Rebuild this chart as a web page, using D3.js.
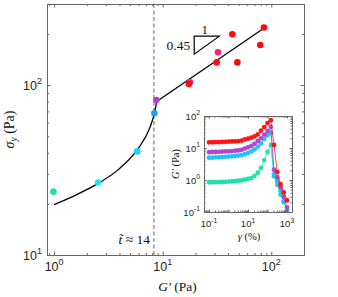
<!DOCTYPE html>
<html>
<head>
<meta charset="utf-8">
<script src="https://cdn.jsdelivr.net/npm/d3@7"></script>
<style>
    body { margin: 0; background: #fff; }
    svg { display: block; }
    .axis .domain { stroke: #666; stroke-width: 1; }
    .axis .tick line { stroke: #666; stroke-width: 1; }
    .ticklab { font-family: "Liberation Sans", Arial, sans-serif; fill: #262626; }
    .tex { font-family: "Liberation Serif", "DejaVu Serif", serif; fill: #111; }
</style>
</head>
<body>
<svg id="chart" width="338" height="297"></svg>
<script>
// main panel: yield stress against storage modulus
const modG = [0.985, 2.54, 5.83, 8.38, 8.74, 17.8, 17.4, 31.4, 32.3, 43.8, 48.7, 79.1, 85.6];
const yieldStress = [23.6, 26.7, 40.7, 68.2, 81.7, 104, 101.4, 136, 156, 199, 136, 172, 218];
const pointColors = ['#20dcaa', '#25e3ee', '#1fd0f5', '#1f9ff2', '#b13fc7', '#ff1f6a', '#ff0a0a',
                     '#ff0a0a', '#ff1f6a', '#ff0a0a', '#ff0a0a', '#ff0a0a', '#ff0a0a'];

// fitted curve: curved branch below the crossover, power law above
const fitG = [1.0, 1.6, 2.5, 3.9, 5.9, 7.6, 8.38, 8.8];
const fitS = [19.8, 22.6, 26.2, 31.8, 42.1, 56, 68.2, 80];
const lawG = [8.8, 85.3];
const lawS = [80, 216];

const tCross = 8.3;
const triG = [19.5, 33.2];
const triS = [152, 194];

const mainXTicks = [1, 10, 100];
const mainYTicks = [10, 100];

// inset: strain sweeps
const gamma = [0.1, 0.147, 0.215, 0.316, 0.464, 0.681, 1, 1.47, 2.15, 3.16, 4.64, 6.81,
               10, 14.7, 21.5, 31.6, 46.4, 68.1, 100, 147, 215, 316, 464, 681, 1000];
const sweepGreen = [0.85, 0.85, 0.86, 0.86, 0.87, 0.88, 0.89, 0.9, 0.92, 0.95, 0.98, 1.02,
                    1.08, 1.15, 1.35, 1.7, 2.4, 4.2, 7.5, 12.5, 1.3, 0.7, 0.35, 0.2, 0.12];
const sweepCyan = [5.0, 5.0, 5.1, 5.1, 5.2, 5.3, 5.4, 5.5, 5.6, 5.8, 6.0, 6.4,
                   7.0, 7.8, 9.0, 11, 14, 19, 25, 30, 1.5, 0.9, 0.45, 0.22, 0.11];
const sweepPurple = [7.4, 7.5, 7.5, 7.6, 7.7, 7.8, 7.9, 8.0, 8.2, 8.4, 8.8, 9.6,
                     10.5, 11.6, 13.5, 16.5, 20, 26, 34, 46, 2.1, 1.2, 0.6, 0.3, 0.14];
const sweepRed = [15, 15.1, 15.2, 15.3, 15.5, 15.6, 15.8, 16, 16.2, 16.5, 17, 18.5,
                  19.5, 21, 23, 26.5, 35, 45, 60, 74, 12.5, 1.8, 0.74, 0.41, 0.23];
const sweepNames = ['green', 'cyan', 'purple', 'red'];
const sweepColors = ['#1ee0ac', '#1ec3f7', '#b048d2', '#ff1414'];
const sweeps = [sweepGreen, sweepCyan, sweepPurple, sweepRed];

const insetXTicks = [0.1, 1, 10, 100, 1000];
const insetXLabels = [0.1, 10, 1000];
const insetYTicks = [0.1, 1, 10, 100];

const svg = d3.select("#chart");

const x = d3.scaleLog().domain([0.86, 200]).range([47, 304]);
const y = d3.scaleLog().domain([10, 300]).range([255, 4]);

function minorTicks(lo, hi) {
    const out = [];
    for (let p = Math.floor(Math.log10(lo)); p <= Math.ceil(Math.log10(hi)); p++) {
        for (let k = 2; k <= 9; k++) {
            const v = k * Math.pow(10, p);
            if (v > lo && v < hi) out.push(v);
        }
    }
    return out;
}

function powLabel(g, px, py, exp, size, anchor) {
    const t = g.append("text").attr("class", "ticklab")
        .attr("x", px).attr("y", py)
        .attr("text-anchor", anchor)
        .style("font-size", size + "px");
    t.append("tspan").text("10");
    t.append("tspan").attr("dy", -size * 0.45).style("font-size", (size * 0.72) + "px").text(exp);
}

function drawFrame(g, xs, ys, xMajor, yMajor, major, minor) {
    const [x0, x1] = xs.range();
    const [y0, y1] = ys.range();
    const xMin = minorTicks(...xs.domain());
    const yMin = minorTicks(...ys.domain());
    const sets = [
        [d3.axisBottom, xs, `translate(0,${y0})`],
        [d3.axisTop, xs, `translate(0,${y1})`],
        [d3.axisLeft, ys, `translate(${x0},0)`],
        [d3.axisRight, ys, `translate(${x1},0)`]
    ];
    sets.forEach(([fn, sc, tr], i) => {
        const isX = i < 2;
        g.append("g").attr("class", "axis").attr("transform", tr)
            .call(fn(sc).tickValues(isX ? xMin : yMin).tickSize(-minor).tickSizeOuter(0).tickFormat(""));
        g.append("g").attr("class", "axis").attr("transform", tr)
            .call(fn(sc).tickValues(isX ? xMajor : yMajor).tickSize(-major).tickSizeOuter(0).tickFormat(""));
    });
}

// ---- main axes
const gMain = svg.append("g");
drawFrame(gMain, x, y, mainXTicks, mainYTicks, 3.5, 2);

mainXTicks.forEach(v => powLabel(gMain, x(v), 271, Math.round(Math.log10(v)), 12.5, "middle"));
mainYTicks.forEach(v => powLabel(gMain, 42, y(v) + 5, Math.round(Math.log10(v)), 12.5, "end"));

gMain.append("line")
    .attr("x1", x(tCross)).attr("x2", x(tCross))
    .attr("y1", y.range()[1]).attr("y2", y.range()[0])
    .attr("stroke", "#666").attr("stroke-width", 1).attr("stroke-dasharray", "4,2.5");

const fitLine = d3.line().x(d => x(d[0])).y(d => y(d[1]));
gMain.append("path").datum(fitG.map((g, i) => [g, fitS[i]]))
    .attr("fill", "none").attr("stroke", "#000").attr("stroke-width", 1.3)
    .attr("d", fitLine.curve(d3.curveMonotoneX));
gMain.append("path").datum(lawG.map((g, i) => [g, lawS[i]]))
    .attr("fill", "none").attr("stroke", "#000").attr("stroke-width", 1.3)
    .attr("d", fitLine.curve(d3.curveLinear));

gMain.selectAll(".pt").data(modG.map((g, i) => ({ g, s: yieldStress[i], c: pointColors[i] })))
    .join("circle").attr("class", "pt")
    .attr("cx", d => x(d.g)).attr("cy", d => y(d.s)).attr("r", 3.3)
    .attr("fill", d => d.c);

// slope triangle
gMain.append("path")
    .attr("d", `M${x(triG[0])},${y(triS[1])}L${x(triG[1])},${y(triS[1])}L${x(triG[0])},${y(triS[0])}Z`)
    .attr("fill", "none").attr("stroke", "#000").attr("stroke-width", 1.2);
gMain.append("text").attr("class", "tex")
    .attr("x", (x(triG[0]) + x(triG[1])) / 2 - 2).attr("y", y(triS[1]) - 2.5)
    .attr("text-anchor", "middle").style("font-size", "13px").text("1");
gMain.append("text").attr("class", "tex")
    .attr("x", x(triG[0]) - 4).attr("y", (y(triS[0]) + y(triS[1])) / 2 + 5)
    .attr("text-anchor", "end").style("font-size", "13.5px").text("0.45");

const tLab = gMain.append("text").attr("class", "tex")
    .attr("x", x(tCross) - 4).attr("y", 244)
    .attr("text-anchor", "end").style("font-size", "13.5px");
tLab.append("tspan").style("font-style", "italic").text("t\u0303");
tLab.append("tspan").text(" \u2248 14");

const xLab = svg.append("text").attr("class", "tex")
    .attr("x", (x.range()[0] + x.range()[1]) / 2 + 2).attr("y", 291)
    .attr("text-anchor", "middle").style("font-size", "13.5px");
xLab.append("tspan").style("font-style", "italic").text("G\u2032");
xLab.append("tspan").text(" (Pa)");

const yLab = svg.append("text").attr("class", "tex")
    .attr("transform", `translate(14,${(y.range()[0] + y.range()[1]) / 2}) rotate(-90)`)
    .attr("text-anchor", "middle").style("font-size", "14px");
yLab.append("tspan").style("font-style", "italic").text("\u03c3");
yLab.append("tspan").style("font-style", "italic").style("font-size", "9.5px").attr("dy", 3).text("y");
yLab.append("tspan").attr("dy", -3).text(" (Pa)");

// ---- inset
const ix = d3.scaleLog().domain([0.055, 1800]).range([204, 292]);
const iy = d3.scaleLog().domain([0.1, 100]).range([212, 116]);
const gIn = svg.append("g");
gIn.append("rect").attr("x", 204).attr("y", 116).attr("width", 88).attr("height", 96).attr("fill", "#fff");

const sweepLine = d3.line().x(d => ix(d[0])).y(d => iy(d[1]));
sweeps.forEach((vals, k) => {
    const pts = gamma.map((g, i) => [g, vals[i]]);
    const gs = gIn.append("g").attr("class", "sweep-" + sweepNames[k]);
    gs.append("path").datum(pts).attr("fill", "none")
        .attr("stroke", sweepColors[k]).attr("stroke-width", 0.8).attr("d", sweepLine);
    gs.selectAll("circle").data(pts).join("circle")
        .attr("cx", d => ix(d[0])).attr("cy", d => iy(d[1])).attr("r", 2.4)
        .attr("fill", sweepColors[k]);
});

drawFrame(gIn, ix, iy, insetXTicks, insetYTicks, 2.5, 1.5);

insetXLabels.forEach(v => powLabel(gIn, ix(v), 227, Math.round(Math.log10(v)), 9.5, "middle"));
insetYTicks.forEach(v => powLabel(gIn, 200, iy(v) + 3.5, Math.round(Math.log10(v)), 9.5, "end"));

const ixLab = gIn.append("text").attr("class", "tex")
    .attr("x", 249).attr("y", 240).attr("text-anchor", "middle").style("font-size", "10.5px");
ixLab.append("tspan").style("font-style", "italic").text("\u03b3");
ixLab.append("tspan").text(" (%)");

const iyLab = gIn.append("text").attr("class", "tex")
    .attr("transform", `translate(179,164) rotate(-90)`)
    .attr("text-anchor", "middle").style("font-size", "10.5px");
iyLab.append("tspan").style("font-style", "italic").text("G\u2032");
iyLab.append("tspan").text(" (Pa)");
</script>
</body>
</html>
